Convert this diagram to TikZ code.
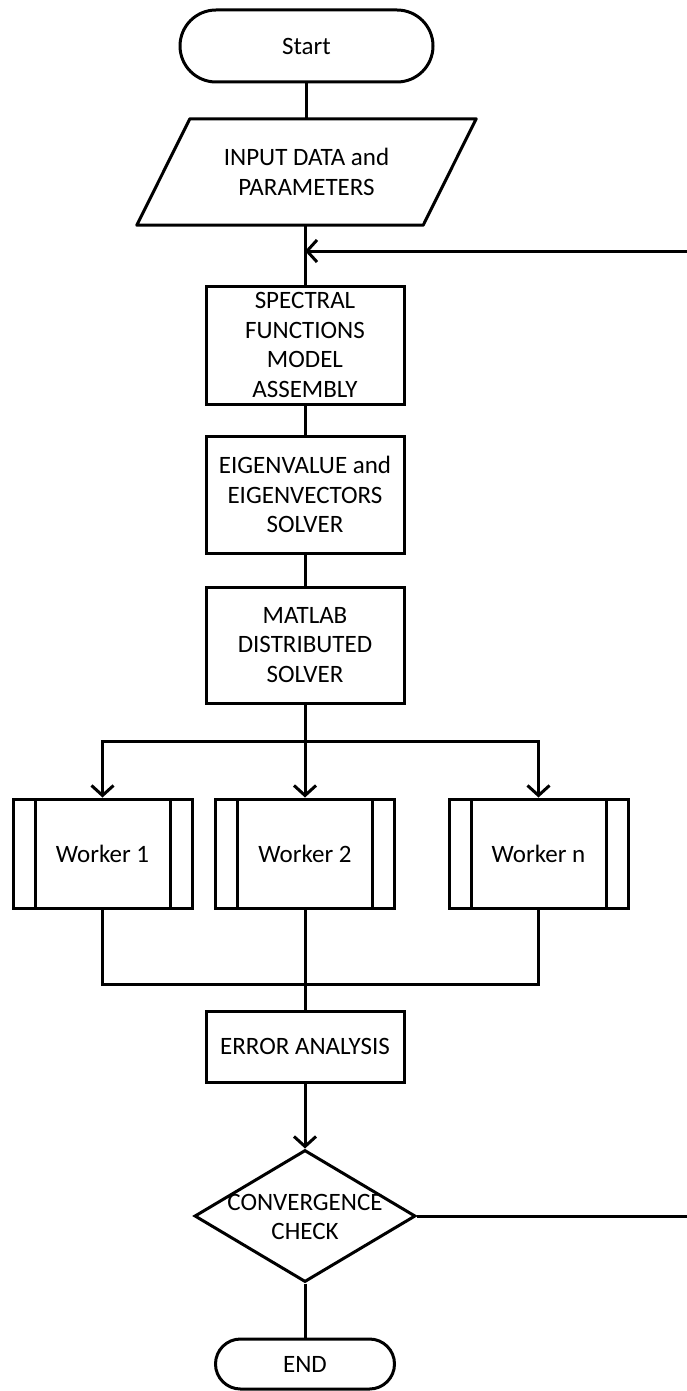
\documentclass[tikz,border=0pt]{standalone}
\usepackage{fontspec}
\setmainfont{Carlito}
\usetikzlibrary{shapes.geometric, arrows.meta}
\begin{document}
\begin{tikzpicture}[x=1pt,y=-1pt,
  lw/.style={line width=3pt},
  every node/.style={font=\fontsize{25}{29.5}\selectfont, align=center, inner sep=0pt},
  procbox/.style={draw, lw, minimum width=198pt, minimum height=117pt},
  termbox/.style={draw, lw, rounded corners=#1},
  workerbox/.style={draw, lw, minimum width=179pt, minimum height=109pt,
    path picture={\draw[line width=3pt]
      ([xshift=22pt]path picture bounding box.north west) -- ([xshift=22pt]path picture bounding box.south west)
      ([xshift=-22pt]path picture bounding box.north east) -- ([xshift=-22pt]path picture bounding box.south east);}},
  conn/.style={lw},
  arr/.style={lw, -{Straight Barb[length=10pt,width=22pt]}}
]
\useasboundingbox (0,0) rectangle (686,1391);

\node[termbox=36pt, minimum width=253pt, minimum height=72pt] (start) at (306.5,46) {Start};

\node[minimum width=286pt, minimum height=106pt] (input) at (306.5,172) {INPUT DATA and\\PARAMETERS};
\draw[lw, line join=round] ([xshift=26.5pt]input.north west) -- ([xshift=26.5pt]input.north east)
  -- ([xshift=-26.5pt]input.south east) -- ([xshift=-26.5pt]input.south west) -- cycle;

\node[procbox, minimum height=118pt] (spectral) at (305,345) {SPECTRAL\\FUNCTIONS\\MODEL\\ASSEMBLY};
\node[procbox] (eigen) at (305,494.5) {EIGENVALUE and\\EIGENVECTORS\\SOLVER};
\node[procbox, minimum height=116pt] (matlab) at (305,645) {MATLAB\\DISTRIBUTED\\SOLVER};

\node[workerbox] (w1) at (102.5,853.5) {Worker 1};
\node[workerbox] (w2) at (305,853.5) {Worker 2};
\node[workerbox] (wn) at (538.5,853.5) {Worker n};

\node[draw, lw, minimum width=198pt, minimum height=71pt] (error) at (305,1046.5) {ERROR ANALYSIS};

\node[diamond, draw, lw, minimum width=221pt, minimum height=132pt] (conv) at (305,1216) {};
\node (convtext) at (305,1217) {CONVERGENCE\\CHECK};

\node[termbox=25pt, minimum width=179pt, minimum height=50pt] (end) at (305,1364) {END};

\coordinate (join) at (305,251);
\coordinate (loopR) at (694,251);
\coordinate (split) at (305,741);
\coordinate (merge) at (305,984);

\draw[conn] (start.south) -- (input.north);
\draw[conn] (input.south -| spectral.north) -- (spectral.north);
\draw[conn] (spectral) -- (eigen);
\draw[conn] (eigen) -- (matlab);
\draw[conn] (matlab.south) -- (split);
\draw[conn] (w1.north |- split) -- (wn.north |- split);
\draw[arr] (split) -| (w1.north);
\draw[arr] (split) -- (w2.north);
\draw[arr] (split) -| (wn.north);
\draw[conn] (w1.south) |- (merge);
\draw[conn] (wn.south) |- (merge);
\draw[conn] (w2.south) -- (merge) -- (error.north);
\draw[arr] (error.south) -- (conv.north);
\draw[conn] (conv.south) -- (end.north);
\draw[arr] (conv.east) -| (loopR) -- (join);
\end{tikzpicture}
\end{document}
